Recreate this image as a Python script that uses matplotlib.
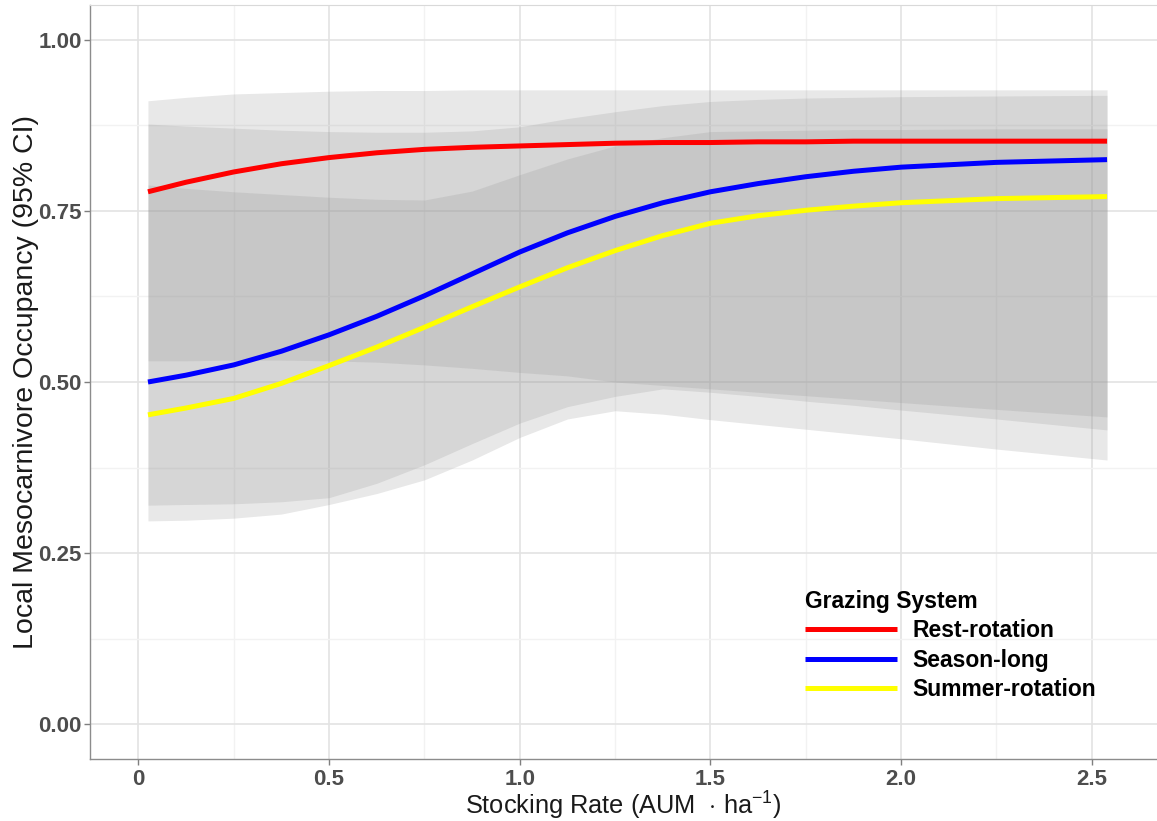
import matplotlib.pyplot as plt
from matplotlib.ticker import FixedLocator, MultipleLocator

plt.rcParams['font.family'] = ['Liberation Sans', 'DejaVu Sans']
plt.rcParams['mathtext.fontset'] = 'custom'
plt.rcParams['mathtext.rm'] = 'Liberation Sans'
plt.rcParams['mathtext.it'] = 'Liberation Sans:italic'

# stocking rate (AUM / ha) at which predictions were taken
stocking = [0.025, 0.125, 0.25, 0.375, 0.5, 0.625, 0.75, 0.875, 1.0, 1.125,
            1.25, 1.375, 1.5, 1.625, 1.75, 1.875, 2.0, 2.25, 2.54]

# predicted occupancy and 95% CI for each grazing system
rest_fit = [0.778, 0.792, 0.807, 0.819, 0.828, 0.835, 0.840, 0.843, 0.845, 0.847,
            0.849, 0.850, 0.850, 0.851, 0.851, 0.852, 0.852, 0.852, 0.852]
rest_lo = [0.531, 0.531, 0.532, 0.532, 0.531, 0.529, 0.525, 0.520, 0.514, 0.509,
           0.500, 0.495, 0.490, 0.485, 0.480, 0.475, 0.470, 0.460, 0.449]
rest_hi = [0.911, 0.916, 0.921, 0.923, 0.925, 0.926, 0.926, 0.927, 0.927, 0.927,
           0.927, 0.927, 0.927, 0.927, 0.927, 0.927, 0.927, 0.927, 0.927]

season_fit = [0.500, 0.510, 0.525, 0.545, 0.569, 0.596, 0.626, 0.658, 0.690, 0.718,
              0.742, 0.762, 0.778, 0.790, 0.800, 0.808, 0.814, 0.821, 0.825]
season_lo = [0.320, 0.321, 0.322, 0.325, 0.331, 0.352, 0.379, 0.410, 0.440, 0.464,
             0.479, 0.490, 0.485, 0.479, 0.472, 0.466, 0.459, 0.446, 0.430]
season_hi = [0.788, 0.783, 0.778, 0.774, 0.770, 0.767, 0.766, 0.779, 0.803, 0.826,
             0.845, 0.857, 0.866, 0.867, 0.868, 0.869, 0.869, 0.870, 0.870]

summer_fit = [0.452, 0.462, 0.476, 0.498, 0.524, 0.551, 0.580, 0.610, 0.639, 0.667,
              0.692, 0.714, 0.732, 0.743, 0.751, 0.757, 0.762, 0.768, 0.771]
summer_lo = [0.297, 0.298, 0.301, 0.307, 0.321, 0.337, 0.357, 0.386, 0.419, 0.446,
             0.458, 0.453, 0.445, 0.438, 0.431, 0.424, 0.417, 0.402, 0.386]
summer_hi = [0.877, 0.874, 0.871, 0.868, 0.866, 0.865, 0.865, 0.867, 0.873, 0.885,
             0.895, 0.904, 0.910, 0.913, 0.915, 0.916, 0.917, 0.918, 0.919]

systems = ['Rest-rotation', 'Season-long', 'Summer-rotation']
fits = [rest_fit, season_fit, summer_fit]
lows = [rest_lo, season_lo, summer_lo]
highs = [rest_hi, season_hi, summer_hi]
colors = ['#ff0000', '#0000ff', '#ffff00']

x_ticks = [0, 0.5, 1.0, 1.5, 2.0, 2.5]
x_labels = ['0', '0.5', '1.0', '1.5', '2.0', '2.5']
y_ticks = [0, 0.25, 0.5, 0.75, 1.0]
y_labels = ['0.00', '0.25', '0.50', '0.75', '1.00']

fig = plt.figure(figsize=(11.57, 8.21), dpi=100)
ax = fig.add_axes([90 / 1157, 1 - 759 / 821, 1067 / 1157, 754 / 821])

# confidence ribbons first, then the fitted curves on top
for lo, hi in zip(lows, highs):
    ax.fill_between(stocking, lo, hi, color='#959595', alpha=0.217,
                    linewidth=0, zorder=1)
for name, fit, c in zip(systems, fits, colors):
    ax.plot(stocking, fit, color=c, lw=3.6, solid_capstyle='butt',
            label=name, zorder=3)

ax.set_xlim(-0.127, 2.671)
ax.set_ylim(-0.051, 1.051)

ax.xaxis.set_major_locator(FixedLocator(x_ticks))
ax.xaxis.set_minor_locator(MultipleLocator(0.25))
ax.yaxis.set_major_locator(FixedLocator(y_ticks))
ax.yaxis.set_minor_locator(MultipleLocator(0.125))
ax.set_xticklabels(x_labels, fontweight='bold')
ax.set_yticklabels(y_labels, fontweight='bold')

ax.set_axisbelow(True)
ax.grid(which='major', color='#e3e3e3', lw=1.2)
ax.grid(which='minor', color='#f2f2f2', lw=1.0)
ax.tick_params(which='minor', length=0)
ax.tick_params(which='major', length=4, width=1, color='#7f7f7f',
               labelsize=16, labelcolor='#4d4d4d')
ax.tick_params(axis='y', pad=2)
ax.tick_params(axis='x', pad=3)

for side in ['left', 'bottom']:
    ax.spines[side].set_color('#8c8c8c')
    ax.spines[side].set_linewidth(1)
ax.spines['top'].set_color('#d9d9d9')
ax.spines['right'].set_visible(False)

ax.set_xlabel('Stocking Rate (AUM  $\\cdot$ ha$^{-1}$)', fontsize=18.3,
              color='#1a1a1a')
ax.xaxis.set_label_coords(0.5, -0.0415)
ax.set_ylabel('Local Mesocarnivore Occupancy (95% CI)', fontsize=20.5,
              color='#1a1a1a')
ax.yaxis.set_label_coords(-0.048, 0.5)

leg = ax.legend(title='Grazing System', loc='upper left',
                bbox_to_anchor=(0.670, 0.2245), frameon=False,
                prop={'weight': 'bold', 'size': 16.5},
                title_fontproperties={'weight': 'bold', 'size': 16.5},
                handlelength=4.0, handletextpad=0.7, labelspacing=0.28,
                borderpad=0, borderaxespad=0, alignment='left')

fig.savefig('out.png', dpi=100)
